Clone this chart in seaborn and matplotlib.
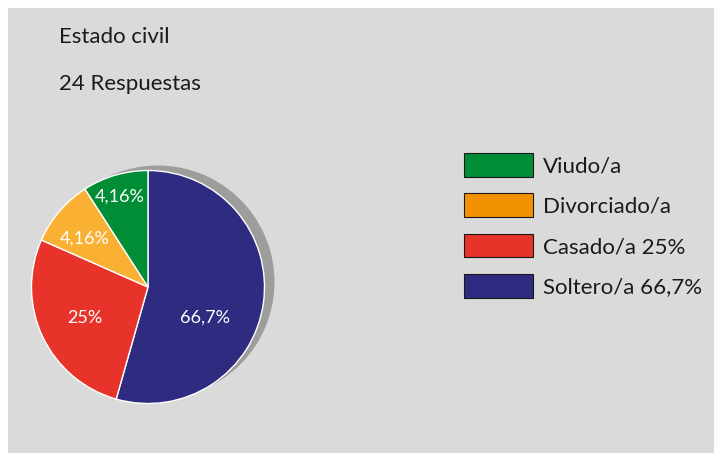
import numpy as np
import seaborn as sns
import matplotlib.pyplot as plt
from matplotlib.patches import Patch, Rectangle

# data (slice sizes read from the drawn wedges, labels as printed)
categorias = ["Soltero/a", "Casado/a", "Divorciado/a", "Viudo/a"]
porcion = [54.4, 27.2, 9.3, 9.1]
etiquetas = ["66,7%", "25%", "4,16%", "4,16%"]
leyenda = ["Viudo/a", "Divorciado/a", "Casado/a 25%", "Soltero/a 66,7%"]

colores_pie = ["#2e2b81", "#e7332a", "#fab133", "#008d36"]
colores_ley = ["#008d36", "#f39200", "#e7332a", "#2e2b81"]
# label spots inside the pie (radius units)
pos_etiq = [(0.49, -0.26), (-0.54, -0.27), (-0.54, 0.415), (-0.245, 0.775)]

sns.set_theme(style="white")
plt.rcParams["font.family"] = ["Lato", "DejaVu Sans"]

W, H = 714, 453
fig = plt.figure(figsize=(W / 100, H / 100), dpi=100)
fig.patch.set_facecolor("white")
fig.patches.append(Rectangle((8 / W, 0), 1, (H - 8) / H, transform=fig.transFigure,
                             facecolor="#dadada", edgecolor="none", zorder=-10))

r = 116.5
cx, cy = 148, H - 287
lim = 1.2
side = 2 * lim * r
ax = fig.add_axes([(cx - side / 2) / W, (cy - side / 2) / H, side / W, side / H])
ax.set_facecolor("none")

# shadow
ax.pie(porcion, colors=["#9d9d9c"] * 4, startangle=90, counterclock=False,
       center=(10 / r, 5 / r), wedgeprops=dict(linewidth=0))
ax.pie(porcion, colors=colores_pie, startangle=90, counterclock=False,
       wedgeprops=dict(edgecolor="white", linewidth=1.0))
for txt, (x, y) in zip(etiquetas, pos_etiq):
    ax.text(x, y, txt, color="white", fontsize=13, ha="center", va="center")
ax.set_xlim(-lim, lim)
ax.set_ylim(-lim, lim)
ax.set_aspect("equal")
ax.axis("off")

fig.text(59 / W, 1 - 43 / H, "Estado civil", fontsize=16, color="#1a1a1a", va="baseline")
fig.text(59 / W, 1 - 90.5 / H, "24 Respuestas", fontsize=16, color="#1a1a1a", va="baseline")

handles = [Patch(facecolor=c, edgecolor="#1a1a1a", linewidth=0.8) for c in colores_ley]
fig.legend(handles, leyenda, loc="upper left", bbox_to_anchor=(464 / W, 1 - 153 / H),
           frameon=False, fontsize=16, handlelength=3.1, handleheight=1.25,
           handletextpad=0.45, labelspacing=0.76, borderpad=0, borderaxespad=0,
           labelcolor="#1a1a1a")

fig.savefig("out.png", dpi=100)
